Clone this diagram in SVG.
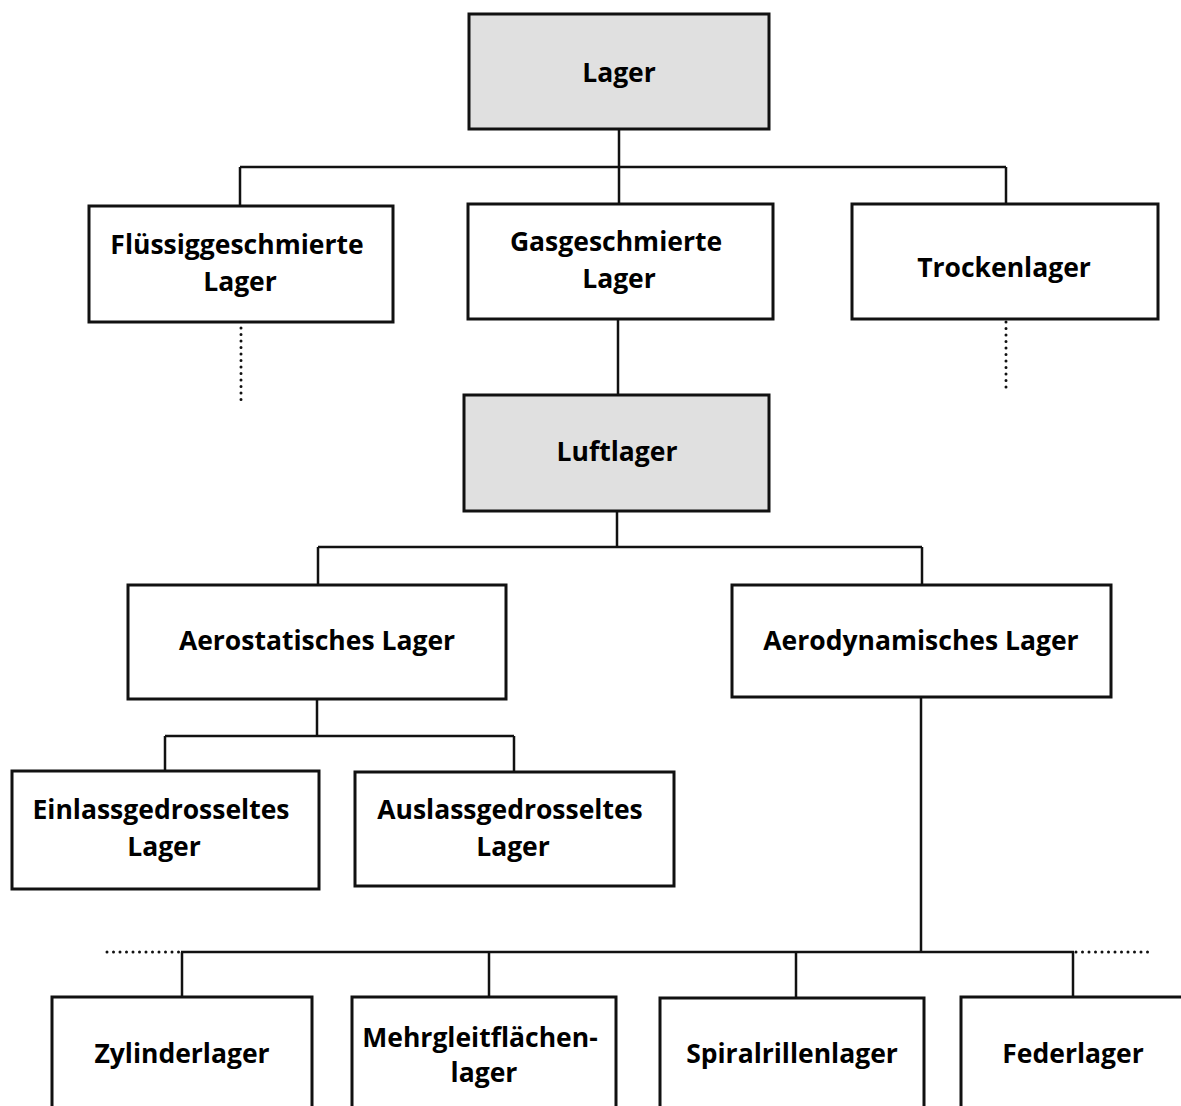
<svg xmlns="http://www.w3.org/2000/svg" width="1181" height="1106" viewBox="0 0 1181 1106">
<style>
.box{fill:#ffffff;stroke:#111111;stroke-width:3}
.hl{fill:#e0e0e0}
.t{font-family:"Open Sans","Noto Sans","Liberation Sans",sans-serif;font-weight:bold;font-size:26.5px;fill:#000;text-anchor:middle}
.ln{fill:none;stroke:#111111;stroke-width:2.5}
.dot{fill:none;stroke:#111111;stroke-width:3;stroke-linecap:round;stroke-dasharray:0 6.5}
</style>
<rect width="1181" height="1106" fill="#ffffff"/>
<g id="connectors">
<path class="ln" d="M619 130V204M240 167H1006M240 167V206M1006 167V204"/>
<path class="ln" d="M618 318V395"/>
<path class="dot" d="M241 328V403"/>
<path class="dot" d="M1006 322V393"/>
<path class="ln" d="M617 511V547M318 547H922M318 547V585M922 547V585"/>
<path class="ln" d="M317 699V736M165 736H514M165 736V771M514 736V772"/>
<path class="ln" d="M921 697V952M181 952H1074M182 952V997M489 952V997M796 952V998M1073 952V997"/>
<path class="dot" d="M107 952H180"/>
<path class="dot" d="M1076 952H1150"/>
</g>
<g id="n-lager"><rect class="box hl" x="469" y="14" width="300" height="115"/><text class="t" x="619" y="82">Lager</text></g>
<g id="n-fluessig"><rect class="box" x="89" y="206" width="304" height="116"/><text class="t" x="237" y="254">Flüssiggeschmierte</text><text class="t" x="240" y="291">Lager</text></g>
<g id="n-gas"><rect class="box" x="468" y="204" width="305" height="115"/><text class="t" x="616" y="251">Gasgeschmierte</text><text class="t" x="619" y="288">Lager</text></g>
<g id="n-trocken"><rect class="box" x="852" y="204" width="306" height="115"/><text class="t" x="1004" y="277">Trockenlager</text></g>
<g id="n-luft"><rect class="box hl" x="464" y="395" width="305" height="116"/><text class="t" x="617" y="461">Luftlager</text></g>
<g id="n-aerostat"><rect class="box" x="128" y="585" width="378" height="114"/><text class="t" x="317" y="650">Aerostatisches Lager</text></g>
<g id="n-aerodyn"><rect class="box" x="732" y="585" width="379" height="112"/><text class="t" x="921" y="650">Aerodynamisches Lager</text></g>
<g id="n-einlass"><rect class="box" x="12" y="771" width="307" height="118"/><text class="t" x="161" y="819">Einlassgedrosseltes</text><text class="t" x="164" y="856">Lager</text></g>
<g id="n-auslass"><rect class="box" x="355" y="772" width="319" height="114"/><text class="t" x="510" y="819">Auslassgedrosseltes</text><text class="t" x="513" y="856">Lager</text></g>
<g id="n-zylinder"><rect class="box" x="52" y="997" width="260" height="130"/><text class="t" x="182" y="1063">Zylinderlager</text></g>
<g id="n-mehrgleit"><rect class="box" x="352" y="997" width="264" height="130"/><text class="t" x="480" y="1047">Mehrgleitflächen-</text><text class="t" x="484" y="1082">lager</text></g>
<g id="n-spiral"><rect class="box" x="660" y="998" width="264" height="130"/><text class="t" x="792" y="1063">Spiralrillenlager</text></g>
<g id="n-feder"><rect class="box" x="961" y="997" width="264" height="130"/><text class="t" x="1073" y="1063">Federlager</text></g>
</svg>
